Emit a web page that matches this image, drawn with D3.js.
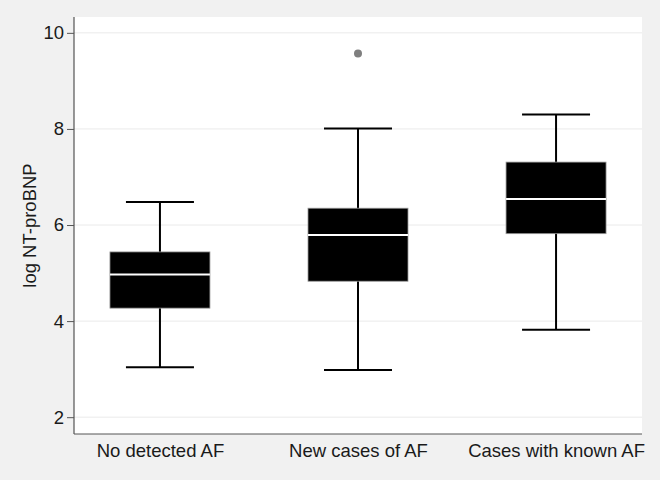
<!DOCTYPE html>
<html>
<head>
<meta charset="utf-8">
<script src="https://cdn.jsdelivr.net/npm/d3@7"></script>
<style>
  html, body { margin: 0; padding: 0; background: #f1f1f1; }
  svg { display: block; font-family: "Liberation Sans", Arial, sans-serif; }
</style>
</head>
<body>
<svg id="chart" width="660" height="480"></svg>
<script>
const groups = ['No detected AF', 'New cases of AF', 'Cases with known AF'];
const whiskerLow = [3.04, 2.98, 3.82];
const quartile1 = [4.27, 4.83, 5.82];
const medians = [4.97, 5.79, 6.54];
const quartile3 = [5.44, 6.35, 7.31];
const whiskerHigh = [6.48, 8.01, 8.30];
const outliers = [{ group: 'New cases of AF', value: 9.57 }];
const yTicks = [2, 4, 6, 8, 10];

const svg = d3.select('#chart');
const width = 660;
const height = 480;
const margin = { top: 17, right: 18, bottom: 46, left: 74 };
const fontSize = 18.5;

const x = d3.scalePoint()
  .domain(groups)
  .range([margin.left, width - margin.right])
  .padding(0.434);

const y = d3.scaleLinear()
  .domain([1.65, 10.33])
  .range([height - margin.bottom, margin.top]);

const boxes = groups.map((g, i) => ({
  group: g,
  lo: whiskerLow[i],
  q1: quartile1[i],
  med: medians[i],
  q3: quartile3[i],
  hi: whiskerHigh[i],
}));

// plot region
svg.append('rect')
  .attr('x', margin.left)
  .attr('y', margin.top)
  .attr('width', width - margin.left - margin.right)
  .attr('height', height - margin.top - margin.bottom)
  .attr('fill', '#fff');

// grid
svg.append('g')
  .selectAll('line')
  .data(yTicks)
  .join('line')
  .attr('x1', margin.left)
  .attr('x2', width - margin.right)
  .attr('y1', (d) => y(d))
  .attr('y2', (d) => y(d))
  .attr('stroke', '#eaeaea')
  .attr('stroke-width', 1);

// y axis
const yAxis = svg.append('g')
  .attr('transform', `translate(${margin.left},0)`)
  .call(d3.axisLeft(y).tickValues(yTicks).tickSize(7).tickPadding(3));
yAxis.attr('font-size', fontSize).attr('font-family', null);
yAxis.select('.domain').attr('stroke', '#333').attr('d', `M0,${margin.top}V${height - margin.bottom}`);
yAxis.selectAll('.tick line').attr('stroke', '#555');
yAxis.selectAll('.tick text').attr('fill', '#1a1a1a');

// x axis
const xAxis = svg.append('g')
  .attr('transform', `translate(0,${height - margin.bottom})`)
  .call(d3.axisBottom(x).tickSize(0).tickPadding(10));
xAxis.attr('font-size', fontSize).attr('font-family', null);
xAxis.select('.domain').attr('stroke', '#555').attr('d', `M${margin.left},0H${width - margin.right}`);
xAxis.selectAll('.tick text').attr('fill', '#1a1a1a');

// y label
svg.append('text')
  .attr('transform', `translate(30,${(margin.top + height - margin.bottom) / 2}) rotate(-90)`)
  .attr('text-anchor', 'middle')
  .attr('dy', '0.35em')
  .attr('font-size', fontSize)
  .attr('fill', '#1a1a1a')
  .text('log NT-proBNP');

const boxW = 100;
const capW = 68;

const gBox = svg.append('g')
  .selectAll('g')
  .data(boxes)
  .join('g')
  .attr('transform', (d) => `translate(${x(d.group)},0)`);

// whiskers
gBox.append('line')
  .attr('y1', (d) => y(d.lo))
  .attr('y2', (d) => y(d.hi))
  .attr('stroke', '#000')
  .attr('stroke-width', 2);

gBox.selectAll('.cap')
  .data((d) => [d.lo, d.hi])
  .join('line')
  .attr('class', 'cap')
  .attr('x1', -capW / 2)
  .attr('x2', capW / 2)
  .attr('y1', (v) => y(v))
  .attr('y2', (v) => y(v))
  .attr('stroke', '#000')
  .attr('stroke-width', 2);

// box
gBox.append('rect')
  .attr('x', -boxW / 2)
  .attr('width', boxW)
  .attr('y', (d) => y(d.q3))
  .attr('height', (d) => y(d.q1) - y(d.q3))
  .attr('fill', '#000')
  .attr('stroke', '#999')
  .attr('stroke-width', 0.8);

// median
gBox.append('line')
  .attr('x1', -boxW / 2)
  .attr('x2', boxW / 2)
  .attr('y1', (d) => y(d.med))
  .attr('y2', (d) => y(d.med))
  .attr('stroke', '#fff')
  .attr('stroke-width', 2);

// outliers
svg.append('g')
  .selectAll('circle')
  .data(outliers)
  .join('circle')
  .attr('cx', (d) => x(d.group))
  .attr('cy', (d) => y(d.value))
  .attr('r', 4)
  .attr('fill', '#7f7f7f');
</script>
</body>
</html>
